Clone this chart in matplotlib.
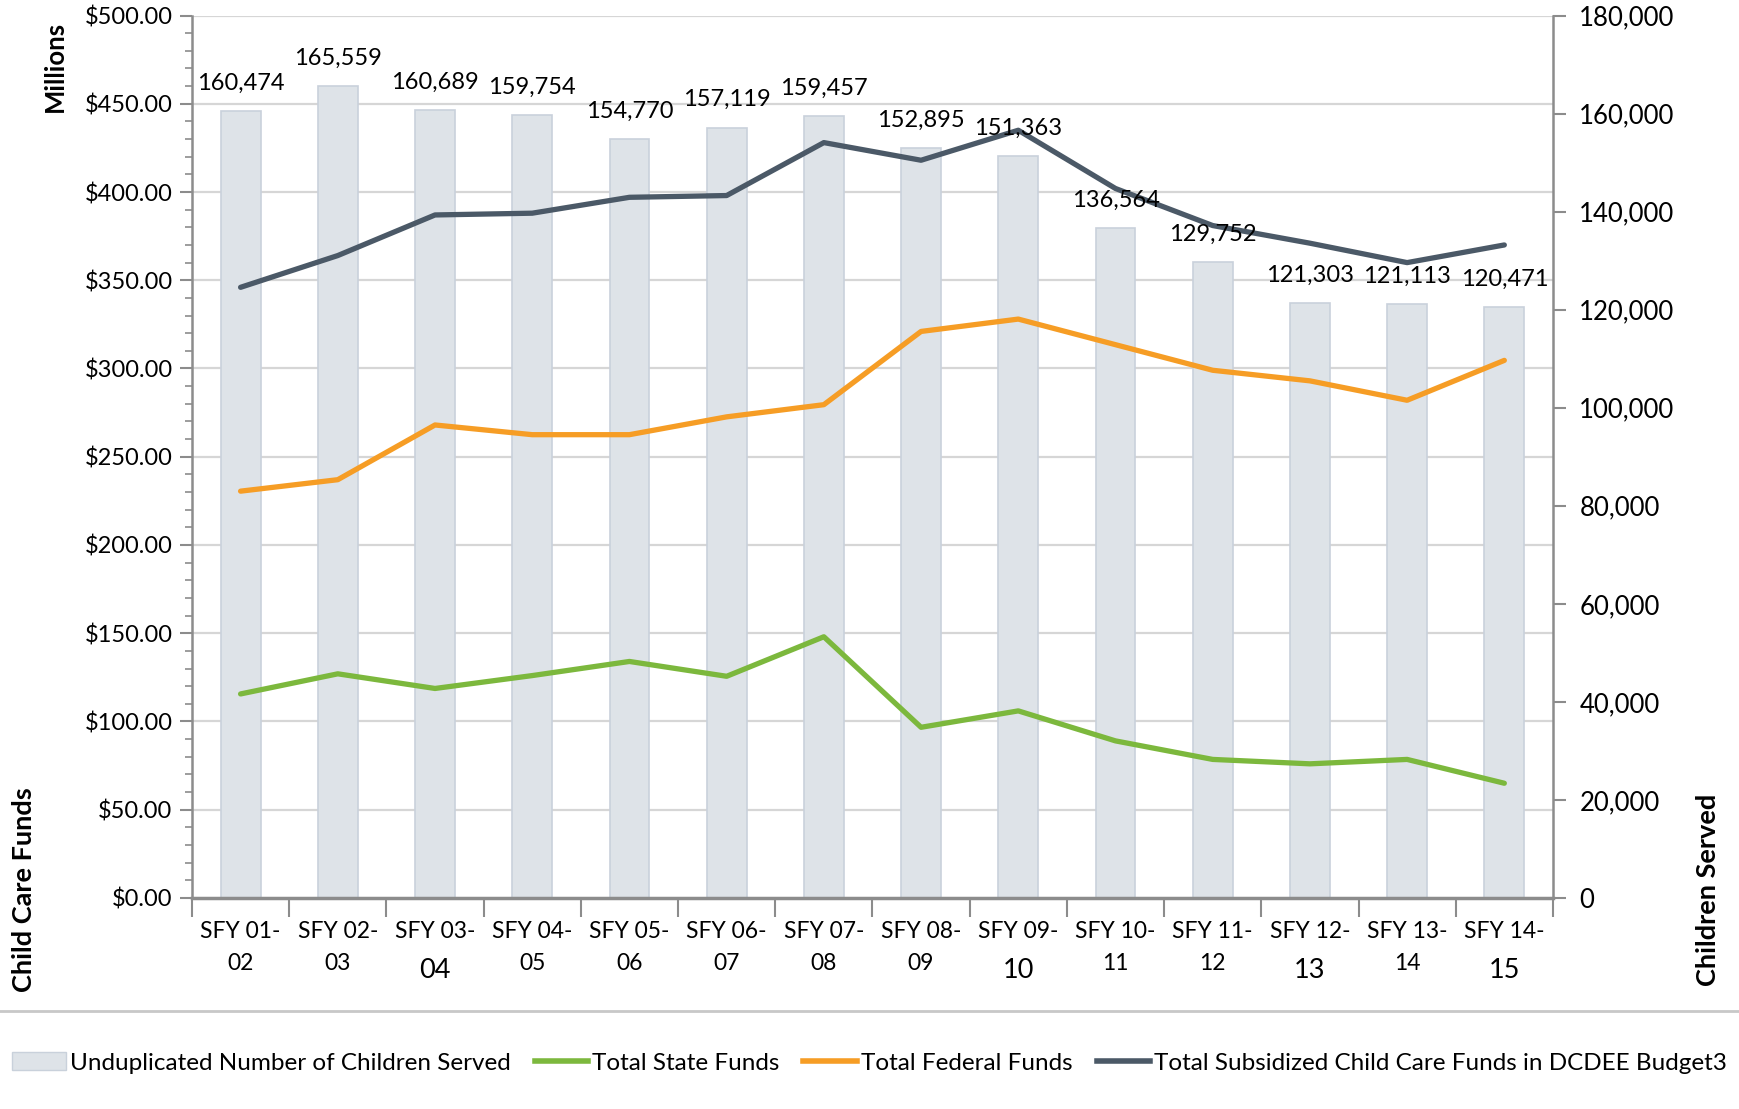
import numpy as np
import matplotlib
matplotlib.use("Agg")
import matplotlib.pyplot as plt
from matplotlib.lines import Line2D
from matplotlib.patches import Patch
from matplotlib.ticker import MultipleLocator, FuncFormatter

plt.rcParams["font.family"] = ["Lato", "DejaVu Sans"]

# ── data ──────────────────────────────────────────────────────────────────────
years = ["01-02", "02-03", "03-04", "04-05", "05-06", "06-07", "07-08",
         "08-09", "09-10", "10-11", "11-12", "12-13", "13-14", "14-15"]
children = [160474, 165559, 160689, 159754, 154770, 157119, 159457,
            152895, 151363, 136564, 129752, 121303, 121113, 120471]
state_funds = [115.6, 127, 118.7, 126, 134, 125.6, 148,
               96.7, 106, 89, 78.5, 76, 78.5, 65]
federal_funds = [230.5, 237, 268, 262.5, 262.5, 272.6, 279.5,
                 321, 328, 313.5, 299, 293, 282, 304.6]
total_funds = [346, 364, 387, 388, 397, 398, 428,
               418, 435, 402, 381, 371, 360, 370]

# second-line tick labels that render larger in the source chart
BIG_SECOND = {"03-04", "09-10", "12-13", "14-15"}

C_BAR, C_BAR_EDGE = "#dee3e8", "#c9d1db"
C_STATE, C_FED, C_TOTAL = "#7cb83d", "#f69d25", "#4b5967"
C_AXIS, C_GRID = "#8c8c8c", "#d6d6d6"

fig = plt.figure(figsize=(17.39, 11.09), dpi=100)
ax = fig.add_axes([0.1104, 0.1903, 0.7826, 0.7957])
ax2 = ax.twinx()

x = np.arange(len(years))

# ── bars (right axis) ─────────────────────────────────────────────────────────
ax2.bar(x, children, width=0.41, color=C_BAR, edgecolor=C_BAR_EDGE, lw=1.2, zorder=1)
ax2.set_ylim(0, 180000)
ax2.yaxis.set_major_locator(MultipleLocator(20000))
ax2.yaxis.set_major_formatter(FuncFormatter(lambda v, p: f"{int(v):,}"))
ax2.tick_params(axis="y", labelsize=18.5, length=9, width=1.5, color=C_AXIS, pad=10)

# ── lines (left axis), drawn on top ───────────────────────────────────────────
ax.set_zorder(ax2.get_zorder() + 1)
ax.patch.set_visible(False)
ax2.patch.set_visible(True)
ax2.patch.set_facecolor("white")
ax.plot(x, state_funds, color=C_STATE, lw=3.8, solid_capstyle="round", zorder=3)
ax.plot(x, federal_funds, color=C_FED, lw=3.8, solid_capstyle="round", zorder=3)
ax.plot(x, total_funds, color=C_TOTAL, lw=3.8, solid_capstyle="round", zorder=3)

# bar value labels sit above the lines
for xi, c in zip(x, children):
    ax.annotate(f"{c:,}", (xi, c), xycoords=ax2.transData, xytext=(0, 12.5),
                textcoords="offset points", ha="center", va="bottom",
                fontsize=17, color="black", zorder=5)

ax.set_ylim(0, 500)
ax.set_xlim(-0.5, len(years) - 0.5)
ax.yaxis.set_major_locator(MultipleLocator(50))
ax.yaxis.set_minor_locator(MultipleLocator(10))
ax.yaxis.set_major_formatter(FuncFormatter(lambda v, p: f"${v:,.2f}"))
ax.tick_params(axis="y", which="major", labelsize=17, length=9, width=1.5, color=C_AXIS, pad=5)
ax.tick_params(axis="y", which="minor", length=5, width=1.2, color=C_AXIS)

# gridlines drawn on the bar axes so they sit behind the bars
for v in np.arange(50, 501, 50):
    ax2.axhline(v / 500 * 180000, color=C_GRID, lw=1.6, zorder=0)

# x ticks at category boundaries, labels as text
ax.set_xticks(np.arange(-0.5, len(years), 1.0))
ax.set_xticklabels([])
ax.tick_params(axis="x", length=14, width=1.5, color=C_AXIS, direction="out")
trans = matplotlib.transforms.blended_transform_factory(ax.transData, fig.transFigure)
for xi, yr in zip(x, years):
    a, b = yr.split("-")
    ax.text(xi, 1 - 932 / 1109, f"SFY {a}-", transform=trans, ha="center",
            va="center", fontsize=16.5)
    big = yr in BIG_SECOND
    ax.text(xi, 1 - (971 if big else 964) / 1109, b, transform=trans, ha="center",
            va="center", fontsize=19.5 if big else 16.5)

for a_ in (ax, ax2):
    for s in a_.spines.values():
        s.set_visible(False)
ax.spines["left"].set_visible(True)
ax.spines["left"].set_color(C_AXIS)
ax.spines["left"].set_linewidth(1.8)
ax.spines["bottom"].set_visible(True)
ax.spines["bottom"].set_color(C_AXIS)
ax.spines["bottom"].set_linewidth(2.5)
ax2.spines["right"].set_visible(True)
ax2.spines["right"].set_color(C_AXIS)
ax2.spines["right"].set_linewidth(1.8)

# axis titles
fig.text(55 / 1739, 1 - 66 / 1109, "Millions", rotation=90, ha="center", va="center",
         fontsize=18.5, fontweight="bold")
fig.text(24 / 1739, 1 - 890 / 1109, "Child Care Funds", rotation=90, ha="center",
         va="center", fontsize=19.5, fontweight="bold")
fig.text(1708 / 1739, 1 - 890 / 1109, "Children Served", rotation=90, ha="center",
         va="center", fontsize=19.5, fontweight="bold")

# separator line above legend
fig.add_artist(Line2D([0, 1], [1 - 1011 / 1109] * 2, transform=fig.transFigure,
                      color="#c8c8c8", lw=2))

handles = [
    Patch(facecolor=C_BAR, edgecolor=C_BAR_EDGE, label="Unduplicated Number of Children Served"),
    Line2D([], [], color=C_STATE, lw=4, label="Total State Funds"),
    Line2D([], [], color=C_FED, lw=4, label="Total Federal Funds"),
    Line2D([], [], color=C_TOTAL, lw=4, label="Total Subsidized Child Care Funds in DCDEE Budget3"),
]
fig.legend(handles=handles, loc="center", bbox_to_anchor=(0.5, 1 - 1063 / 1109),
           ncol=4, frameon=False, fontsize=17.5, handlelength=2.2, handletextpad=0.15,
           columnspacing=1.0)

fig.savefig("out.png", dpi=100)
